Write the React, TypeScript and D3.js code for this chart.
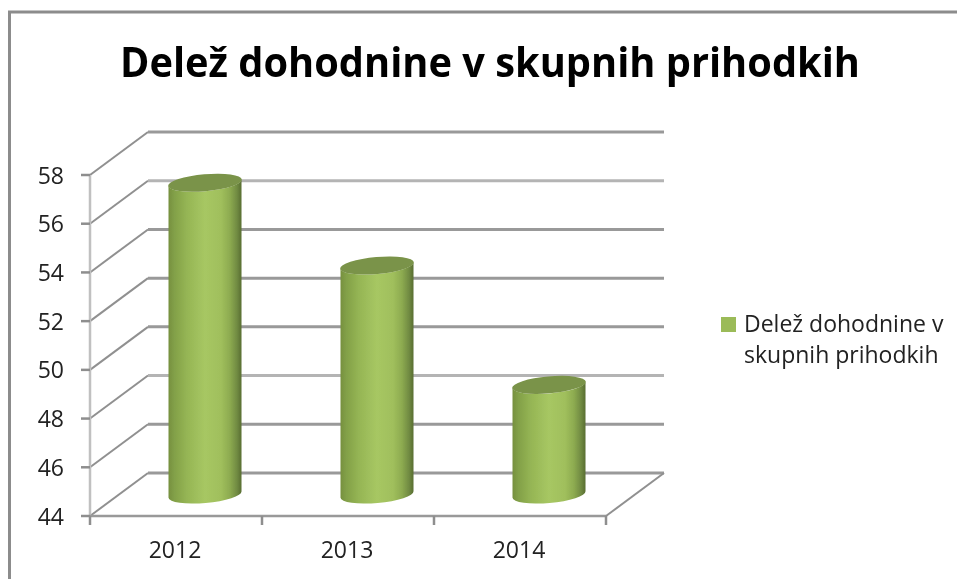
import React from "react";
import * as d3 from "d3";

const categories = ["2012", "2013", "2014"];
const values = [56.8, 53.4, 48.5];
const yTicks = [44, 46, 48, 50, 52, 54, 56, 58];
const seriesName = ["Delež dohodnine v", "skupnih prihodkih"];
const title = "Delež dohodnine v skupnih prihodkih";
const font = "'Open Sans', 'Noto Sans', sans-serif";

const W = 957, H = 579;
const dx = 58, dy = -43;
const y = d3.scaleLinear().domain([44, 58]).range([516, 175]);
const x = d3.scaleBand<string>().domain(categories).range([90, 606]);
const stops: [number, string][] = [
  [0, "#76903f"], [0.08, "#82a048"], [0.25, "#95b554"], [0.5, "#a7c763"],
  [0.72, "#a0bf5c"], [0.84, "#8dab50"], [0.94, "#708a42"], [1, "#586d32"],
];

export default function App() {
  const rx = 36.5, ry = 8.5, tilt = -5;
  const x0 = x.range()[0], x1 = x.range()[1];
  return (
    <svg width={W} height={H} viewBox={`0 0 ${W} ${H}`}
      style={{ position: "fixed", left: 0, top: 0, background: "#fff" }}>
      <defs>
        <linearGradient id="cyl" x1="0" x2="1" y1="0" y2="0">
          {stops.map(([o, c]) => <stop key={o} offset={o} stopColor={c} />)}
        </linearGradient>
        <filter id="soft" x="0" y="0" width="100%" height="100%" filterUnits="userSpaceOnUse"
          primitiveUnits="userSpaceOnUse">
          <feGaussianBlur stdDeviation="0.45" />
        </filter>
      </defs>
      <g filter="url(#soft)">
        <rect x={0} y={0} width={W} height={H} fill="#fff" />
        {/* frame */}
        <path d={`M9.5,${H} V12 H${W}`} fill="none" stroke="#8c8c8c" strokeWidth={3} />
        <text x={490} y={77} textAnchor="middle" fontFamily={font} fontWeight={700}
          fontSize={41} textLength={740} lengthAdjust="spacingAndGlyphs" fill="#000">{title}</text>
        {/* walls */}
        {yTicks.map((t) => (
          <g key={t}>
            <line x1={x0} y1={y(t)} x2={x0 + dx} y2={y(t) + dy} strokeWidth={2} stroke="#909090" />
            <line x1={x0 + dx} y1={y(t) + dy} x2={x1 + dx} y2={y(t) + dy} strokeWidth={3}
              stroke={t === 56 || t === 48 ? "#b4b4b4" : "#999"} />
          </g>
        ))}
        <line x1={x0} y1={y(58)} x2={x0} y2={y(44)} stroke="#c0c0c0" strokeWidth={2.5} />
        {yTicks.map((t) => (
          <g key={t}>
            <line x1={x0 - 9} y1={y(t)} x2={x0} y2={y(t)} strokeWidth={2.5} stroke="#8e8e8e" />
            <text x={64} y={y(t) + 8.5} textAnchor="end" fontFamily={font} fontSize={23}
              fill="#222">{t}</text>
          </g>
        ))}
        <line x1={x0} y1={y(44)} x2={x1} y2={y(44)} stroke="#999" strokeWidth={2.5} />
        <line x1={x1} y1={y(44)} x2={x1 + dx} y2={y(44) + dy} stroke="#909090" strokeWidth={2} />
        {categories.map((c) => (
          <line key={c} x1={x(c)!} y1={y(44)} x2={x(c)!} y2={y(44) + 9} stroke="#8e8e8e" strokeWidth={2.5} />
        ))}
        <line x1={x1} y1={y(44)} x2={x1} y2={y(44) + 9} stroke="#8e8e8e" strokeWidth={2.5} />
        {/* cylinders */}
        {categories.map((c, i) => {
          const cx = x(c)! + x.bandwidth() / 2 + dx / 2;
          const base = y(44) + dy / 2;
          const top = y(values[i]) + dy / 2;
          const sy = Math.sin((tilt * Math.PI) / 180) * rx;
          const body = `M${cx - rx},${top - sy} L${cx - rx},${base - sy}
            A${rx},${ry} ${tilt} 0 0 ${cx + rx},${base + sy}
            L${cx + rx},${top + sy} A${rx},${ry} ${tilt} 0 1 ${cx - rx},${top - sy} Z`;
          return (
            <g key={c}>
              <path d={body} fill="url(#cyl)" />
              <ellipse cx={cx} cy={top} rx={rx + 0.5} ry={ry} fill="#7a9348"
                transform={`rotate(${tilt} ${cx} ${top})`} />
              <text x={x(c)! + x.bandwidth() / 2 - 1} y={558} textAnchor="middle" fontFamily={font}
                fontSize={23} fill="#222">{c}</text>
            </g>
          );
        })}
        {/* legend */}
        <rect x={721} y={317} width={15} height={15} fill="#9bbb59" />
        {seriesName.map((s, i) => (
          <text key={s} x={744} y={332 + i * 31} fontFamily={font} fontSize={23} fill="#222">{s}</text>
        ))}
      </g>
    </svg>
  );
}
